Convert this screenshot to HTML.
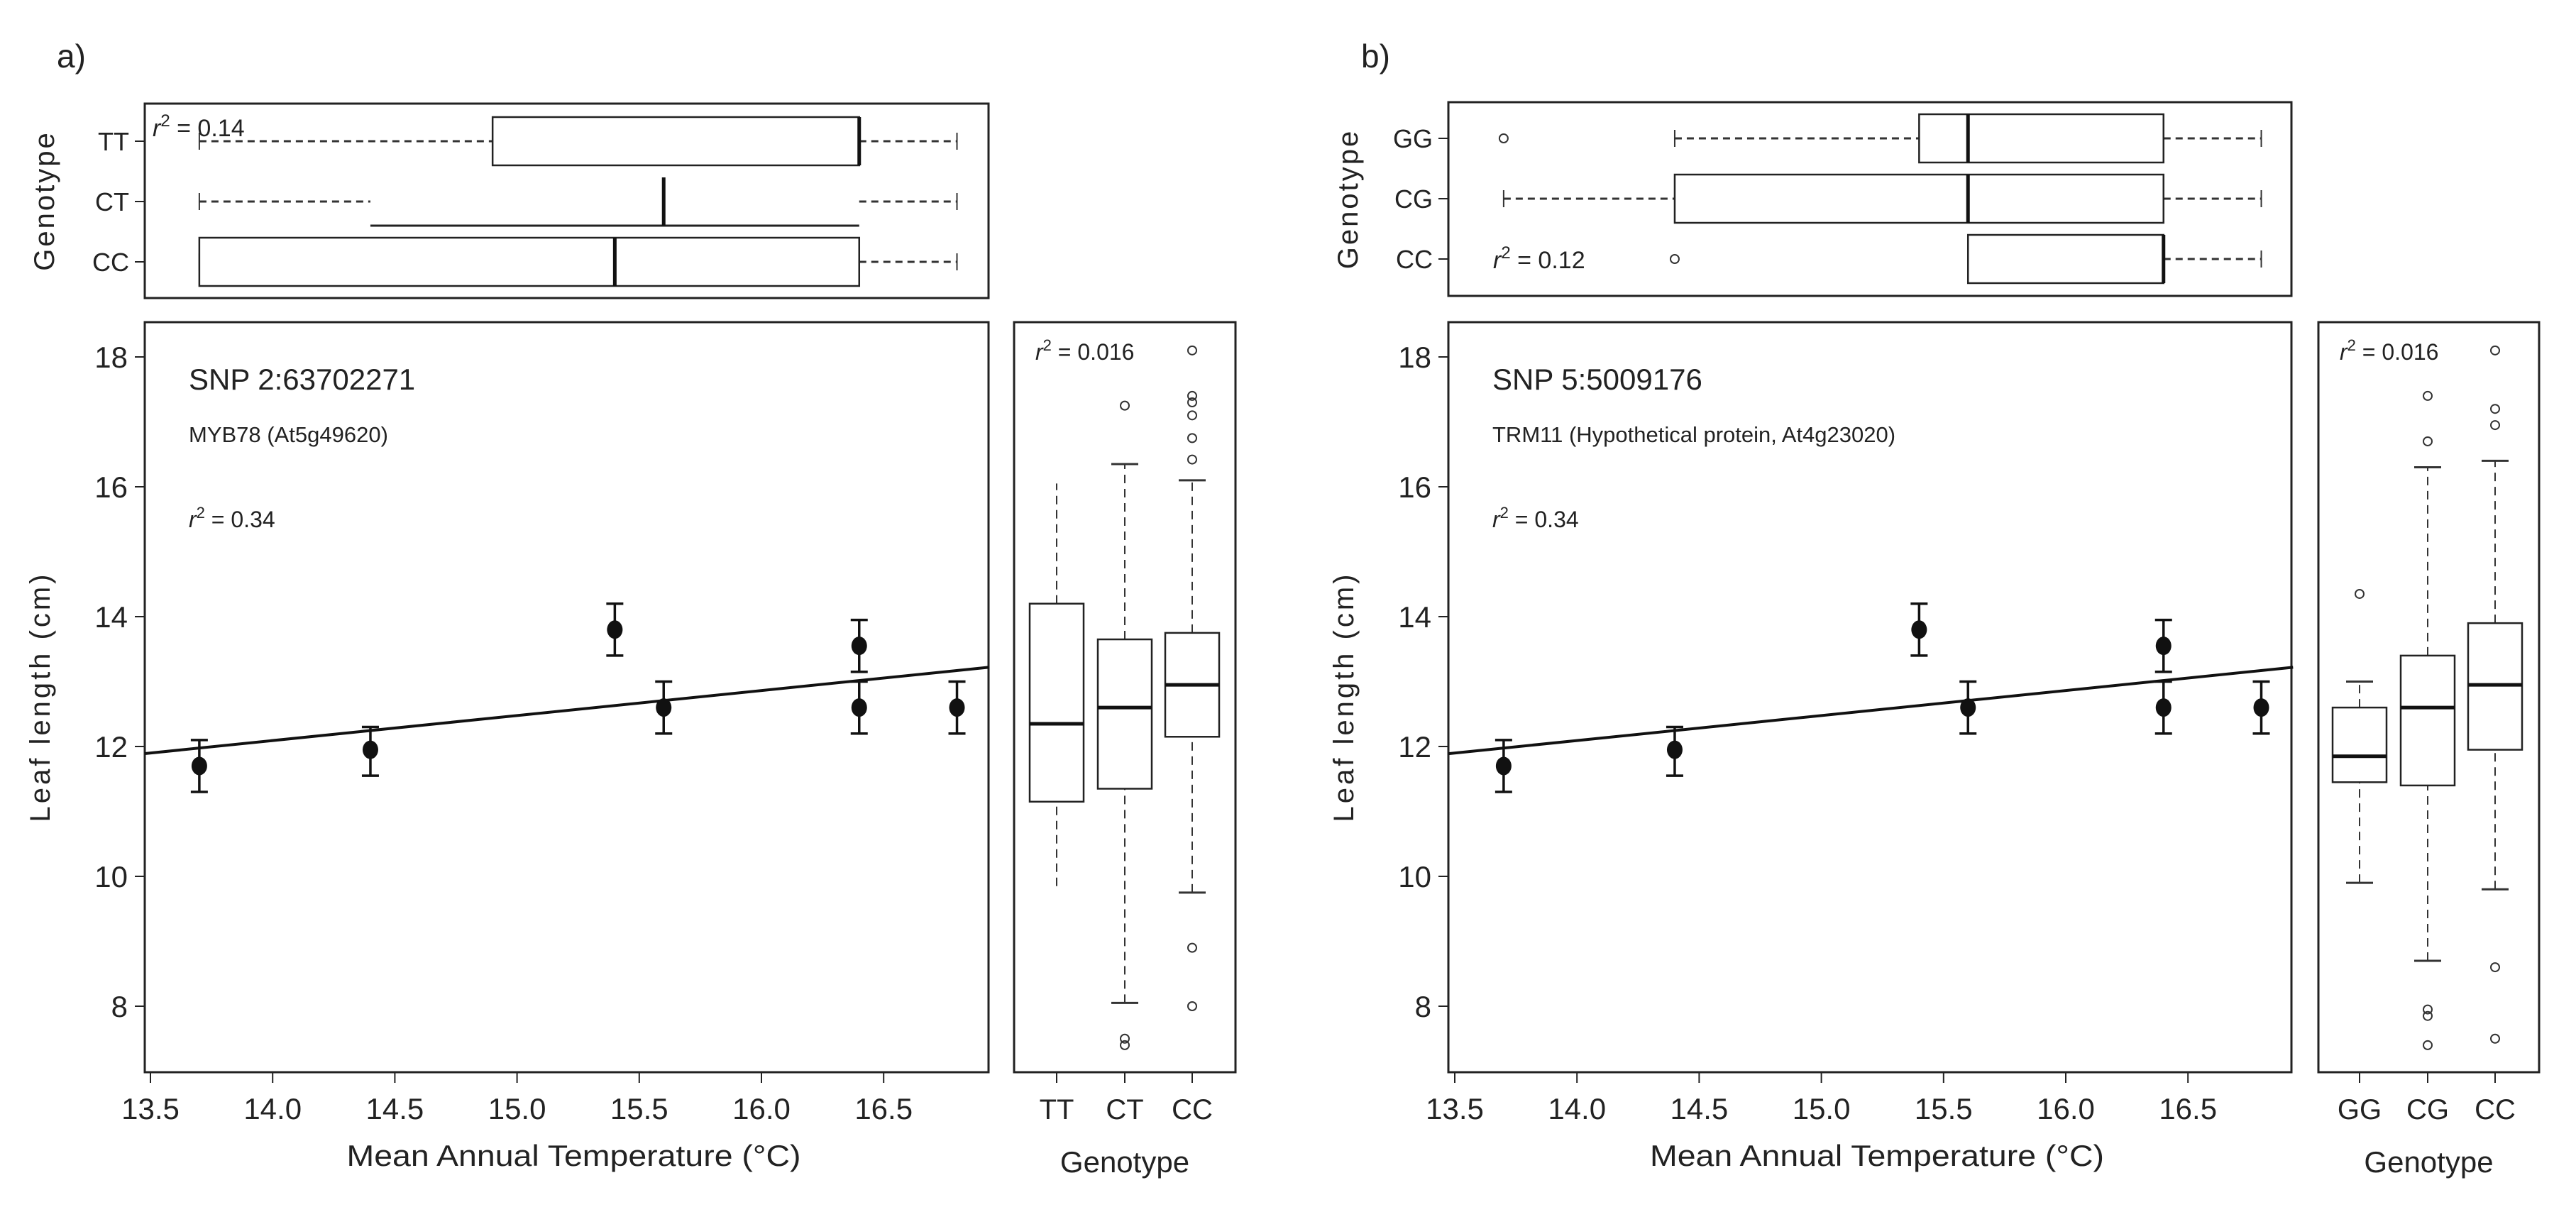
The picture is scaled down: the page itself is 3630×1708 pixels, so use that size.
<!DOCTYPE html>
<html><head><meta charset="utf-8"><style>
html,body{margin:0;padding:0;background:#fff;}
svg{display:block;font-family:"Liberation Sans",Arial,sans-serif;}
</style></head><body>
<svg id="chart" width="3630" height="1708" viewBox="0 0 3630 1708" xmlns="http://www.w3.org/2000/svg"></svg>
<script>
// ---- data ----
const tempsA = [13.7, 14.4, 15.4, 15.6, 16.4, 16.4, 16.8];
const meansA = [11.7, 11.95, 13.8, 12.6, 13.55, 12.6, 12.6];
const lowsA  = [11.3, 11.55, 13.4, 12.2, 13.15, 12.2, 12.2];
const highsA = [12.1, 12.3, 14.2, 13.0, 13.95, 13.0, 13.0];
const tempsB = [13.7, 14.4, 15.4, 15.6, 16.4, 16.4, 16.8];
const meansB = [11.7, 11.95, 13.8, 12.6, 13.55, 12.6, 12.6];
const lowsB  = [11.3, 11.55, 13.4, 12.2, 13.15, 12.2, 12.2];
const highsB = [12.1, 12.3, 14.2, 13.0, 13.95, 13.0, 13.0];
const regX = [13.45, 16.93];
const regY = [11.88, 13.22];
const xTicks = [13.5, 14.0, 14.5, 15.0, 15.5, 16.0, 16.5];
const xTickLabels = ["13.5","14.0","14.5","15.0","15.5","16.0","16.5"];
const yTicks = [8, 10, 12, 14, 16, 18];
const yTickLabels = ["8","10","12","14","16","18"];
// side boxplots: [whiskerLow, q1, median, q3, whiskerHigh]
const genoA = ["TT","CT","CC"];
const sideStatsA = [[9.85,11.15,12.35,14.2,16.05],[8.05,11.35,12.6,13.65,16.35],[9.75,12.15,12.95,13.75,16.1]];
const sideOutA = [[],[17.25,7.5,7.4],[18.1,17.4,17.3,17.1,16.75,16.42,8.9,8.0]];
const sideCapA = [false,true,true];
const genoB = ["GG","CG","CC"];
const sideStatsB = [[9.9,11.45,11.85,12.6,13.0],[8.7,11.4,12.6,13.4,16.3],[9.8,11.95,12.95,13.9,16.4]];
const sideOutB = [[14.35],[17.4,16.7,7.95,7.85,7.4],[18.1,17.2,16.95,8.6,7.5]];
const sideCapB = [true,true,true];
// top boxplots: [whiskerLow, q1, median, q3, whiskerHigh]
const topStatsA = [[13.7,14.9,16.4,16.4,16.8],[13.7,14.4,15.6,16.4,16.8],[13.7,13.7,15.4,16.4,16.8]];
const topOutA = [[],[],[]];
const topOpenA = [false,true,false];
const topStatsB = [[14.4,15.4,15.6,16.4,16.8],[13.7,14.4,15.6,16.4,16.8],[16.4,15.6,16.4,16.4,16.8]];
const topOutB = [[13.7],[],[14.4]];
const topOpenB = [false,false,false];

const svg = document.getElementById('chart');
const NS = 'http://www.w3.org/2000/svg';
function el(tag, attrs, parent){
  const e = document.createElementNS(NS, tag);
  for (const k in attrs) e.setAttribute(k, attrs[k]);
  (parent||svg).appendChild(e);
  return e;
}
function txt(s, attrs, parent){ const t = el('text', attrs, parent); t.textContent = s; return t; }

function panel(P){
  const g = el('g', {});
  
  
  const X = v => P.x0 + (v - 13.5) * 344.4;
  const Y = v => 503 + (18 - v) * 91.5;
  const Xc = i => P.catX[i];
  const rowY = [P.rowY0, P.rowY0 + 85, P.rowY0 + 170];

  const lt = txt(P.letter, {x: P.letterX, y: 95, 'font-size': 46, fill: '#222'}, g);
  
  

  const tf = el('rect', {x: P.left, y: P.topY0, width: P.right - P.left, height: P.topY1 - P.topY0, fill: 'none', stroke: '#222', 'stroke-width': 3}, g);
  
  
  const gt = txt('Genotype', {x: 0, y: 0, transform: `translate(${P.left-128},${(P.topY0+P.topY1)/2}) rotate(-90)`, 'text-anchor': 'middle', 'font-size': 40, fill: '#222', 'letter-spacing': 3}, g);
  
  
  P.top.forEach((s, i) => {
    const y = rowY[i];
    const tk = el('line', {x1: P.left - 14, x2: P.left, y1: y, y2: y, stroke: '#222', 'stroke-width': 2}, g);
    
    
    const tl = txt(P.geno[i], {x: P.left - 22, y: y + 13, 'text-anchor': 'end', 'font-size': 36, fill: '#222'}, g);
    
    
    const bg = el('g', {}, g);
    
    
    const h = 34;
    el('line', {x1: X(s[0]), x2: X(s[1]), y1: y, y2: y, stroke: '#333', 'stroke-width': 3, 'stroke-dasharray': '10 7'}, bg);
    el('line', {x1: X(s[3]), x2: X(s[4]), y1: y, y2: y, stroke: '#333', 'stroke-width': 3, 'stroke-dasharray': '10 7'}, bg);
    el('line', {x1: X(s[0]), x2: X(s[0]), y1: y - 12, y2: y + 12, stroke: '#333', 'stroke-width': 2}, bg);
    el('line', {x1: X(s[4]), x2: X(s[4]), y1: y - 12, y2: y + 12, stroke: '#333', 'stroke-width': 2}, bg);
    if (P.topOpen[i]) {
      el('line', {x1: X(s[1]), x2: X(s[3]), y1: y + h, y2: y + h, stroke: '#222', 'stroke-width': 3}, bg);
    } else {
      el('rect', {x: Math.min(X(s[1]),X(s[3])), y: y - h, width: Math.abs(X(s[3]) - X(s[1])), height: 2*h, fill: '#fff', stroke: '#222', 'stroke-width': 2.5}, bg);
    }
    el('line', {x1: X(s[2]), x2: X(s[2]), y1: y - h, y2: y + h, stroke: '#111', 'stroke-width': 5}, bg);
    P.topOut[i].forEach(v => el('circle', {cx: X(v), cy: y, r: 6, fill: 'none', stroke: '#333', 'stroke-width': 2}, bg));
  });
  const tr = txt('', {x: P.topR2X, y: P.topR2Y, 'font-size': 34, fill: '#222'}, g);
  
  
  tr.innerHTML = '<tspan font-style="italic">r</tspan><tspan dy="-14" font-size="24">2</tspan><tspan dy="14"> = ' + P.topR2 + '</tspan>';

  const mf = el('rect', {x: P.left, y: 454, width: P.right - P.left, height: 1057, fill: 'none', stroke: '#222', 'stroke-width': 3}, g);
  
  
  yTicks.forEach((v, i) => {
    const t = el('line', {x1: P.left - 14, x2: P.left, y1: Y(v), y2: Y(v), stroke: '#222', 'stroke-width': 2}, g);
    
    
    const l = txt(yTickLabels[i], {x: P.left - 24, y: Y(v) + 15, 'text-anchor': 'end', 'font-size': 42, fill: '#222'}, g);
    
    
  });
  xTicks.forEach((v, i) => {
    const t = el('line', {x1: X(v), x2: X(v), y1: 1511, y2: 1526, stroke: '#222', 'stroke-width': 2}, g);
    
    
    const l = txt(xTickLabels[i], {x: X(v), y: 1577, 'text-anchor': 'middle', 'font-size': 42, fill: '#222'}, g);
    
    
  });
  const xl = txt('Mean Annual Temperature (°C)', {x: (P.left + P.right)/2 + 10, y: 1643, 'text-anchor': 'middle', 'font-size': 42, fill: '#222', textLength: 640, lengthAdjust: 'spacingAndGlyphs'}, g);
  
  
  const yl = txt('Leaf length (cm)', {x: 0, y: 0, transform: `translate(${P.left-134},982) rotate(-90)`, 'text-anchor': 'middle', 'font-size': 40, fill: '#222', 'letter-spacing': 4}, g);
  
  
  const t1 = txt(P.snp, {x: P.left + 62, y: 549, 'font-size': 42, fill: '#222'}, g);
  
  
  const t2 = txt(P.gene, {x: P.left + 62, y: 623, 'font-size': 31, fill: '#222'}, g);
  
  
  const t3 = txt('', {x: P.left + 62, y: 743, 'font-size': 32, fill: '#222'}, g);
  
  
  t3.innerHTML = '<tspan font-style="italic">r</tspan><tspan dy="-13" font-size="22">2</tspan><tspan dy="13"> = 0.34</tspan>';
  const slope = (regY[1]-regY[0])/(regX[1]-regX[0]);
  const xStart = 13.5 + (P.left - P.x0)/344.4;
  const rl = el('line', {x1: P.left, y1: Y(regY[0] + slope*(xStart-regX[0])), x2: X(regX[1]), y2: Y(regY[1]), stroke: '#111', 'stroke-width': 4}, g);
  
  
  P.temps.forEach((t, i) => {
    const pg = el('g', {}, g);
    
    
    el('line', {x1: X(t), x2: X(t), y1: Y(P.lows[i]), y2: Y(P.highs[i]), stroke: '#111', 'stroke-width': 3.5}, pg);
    el('line', {x1: X(t) - 12, x2: X(t) + 12, y1: Y(P.lows[i]), y2: Y(P.lows[i]), stroke: '#111', 'stroke-width': 3.5}, pg);
    el('line', {x1: X(t) - 12, x2: X(t) + 12, y1: Y(P.highs[i]), y2: Y(P.highs[i]), stroke: '#111', 'stroke-width': 3.5}, pg);
    el('ellipse', {cx: X(t), cy: Y(P.means[i]), rx: 11, ry: 13, fill: '#111'}, pg);
  });

  const sf = el('rect', {x: P.sideL, y: 454, width: P.sideR - P.sideL, height: 1057, fill: 'none', stroke: '#222', 'stroke-width': 3}, g);
  
  
  const sr = txt('', {x: P.sideL + 30, y: 507, 'font-size': 32, fill: '#222'}, g);
  
  
  sr.innerHTML = '<tspan font-style="italic">r</tspan><tspan dy="-13" font-size="22">2</tspan><tspan dy="13"> = 0.016</tspan>';
  P.side.forEach((s, i) => {
    const cx = Xc(i);
    const bg = el('g', {}, g);
    
    
    const w = 38;
    el('line', {x1: cx, x2: cx, y1: Y(s[0]), y2: Y(s[1]), stroke: '#333', 'stroke-width': 2, 'stroke-dasharray': '12 8'}, bg);
    el('line', {x1: cx, x2: cx, y1: Y(s[3]), y2: Y(s[4]), stroke: '#333', 'stroke-width': 2, 'stroke-dasharray': '12 8'}, bg);
    if (P.sideCap[i]) {
      el('line', {x1: cx - 19, x2: cx + 19, y1: Y(s[0]), y2: Y(s[0]), stroke: '#333', 'stroke-width': 3}, bg);
      el('line', {x1: cx - 19, x2: cx + 19, y1: Y(s[4]), y2: Y(s[4]), stroke: '#333', 'stroke-width': 3}, bg);
    }
    el('rect', {x: cx - w, y: Y(s[3]), width: 2*w, height: Y(s[1]) - Y(s[3]), fill: '#fff', stroke: '#222', 'stroke-width': 2.5}, bg);
    el('line', {x1: cx - w, x2: cx + w, y1: Y(s[2]), y2: Y(s[2]), stroke: '#111', 'stroke-width': 5}, bg);
    P.sideOut[i].forEach(v => el('circle', {cx: cx, cy: Y(v), r: 6, fill: 'none', stroke: '#333', 'stroke-width': 2}, bg));
    const t = el('line', {x1: cx, x2: cx, y1: 1511, y2: 1526, stroke: '#222', 'stroke-width': 2}, g);
    
    
    const l = txt(P.geno[i], {x: cx, y: 1577, 'text-anchor': 'middle', 'font-size': 40, fill: '#222'}, g);
    
    
  });
  const sx = txt('Genotype', {x: (P.sideL + P.sideR)/2, y: 1652, 'text-anchor': 'middle', 'font-size': 42, fill: '#222'}, g);
  
  
}

panel({name: 'panel-a', letter: 'a)', letterX: 80, x0: 212, left: 204, right: 1393, topY0: 146, topY1: 420, rowY0: 199,
  sideL: 1429, sideR: 1741, catX: [1489, 1585, 1680], geno: genoA,
  temps: tempsA, means: meansA, lows: lowsA, highs: highsA,
  top: topStatsA, topOut: topOutA, topOpen: topOpenA, topR2: '0.14', topR2X: 215, topR2Y: 192,
  side: sideStatsA, sideOut: sideOutA, sideCap: sideCapA, snp: 'SNP 2:63702271', gene: 'MYB78 (At5g49620)'});
panel({name: 'panel-b', letter: 'b)', letterX: 1918, x0: 2050, left: 2041, right: 3229, topY0: 144, topY1: 417, rowY0: 195,
  sideL: 3267, sideR: 3578, catX: [3325, 3421, 3516], geno: genoB,
  temps: tempsB, means: meansB, lows: lowsB, highs: highsB,
  top: topStatsB, topOut: topOutB, topOpen: topOpenB, topR2: '0.12', topR2X: 2104, topR2Y: 378,
  side: sideStatsB, sideOut: sideOutB, sideCap: sideCapB, snp: 'SNP 5:5009176', gene: 'TRM11 (Hypothetical protein, At4g23020)'});
</script>
</body></html>
